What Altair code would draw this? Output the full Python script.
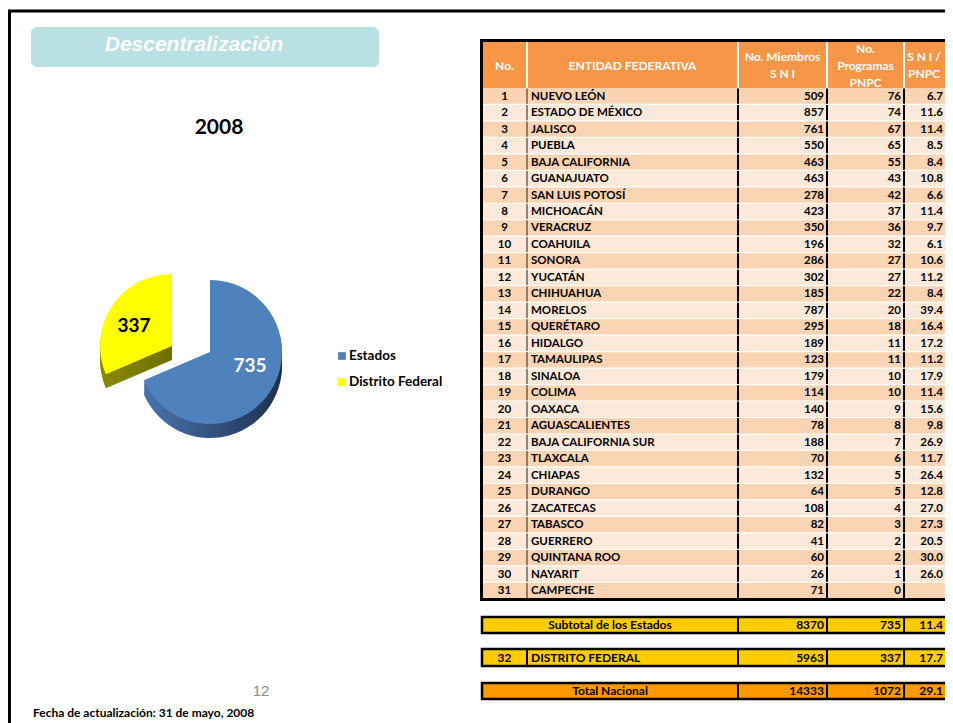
import altair as alt
import pandas as pd

# ---------------- data ----------------
nums = list(range(1, 32))
entidades = ["NUEVO LEÓN", "ESTADO DE MÉXICO", "JALISCO", "PUEBLA", "BAJA CALIFORNIA",
             "GUANAJUATO", "SAN LUIS POTOSÍ", "MICHOACÁN", "VERACRUZ", "COAHUILA",
             "SONORA", "YUCATÁN", "CHIHUAHUA", "MORELOS", "QUERÉTARO", "HIDALGO",
             "TAMAULIPAS", "SINALOA", "COLIMA", "OAXACA", "AGUASCALIENTES",
             "BAJA CALIFORNIA SUR", "TLAXCALA", "CHIAPAS", "DURANGO", "ZACATECAS",
             "TABASCO", "GUERRERO", "QUINTANA ROO", "NAYARIT", "CAMPECHE"]
sni = [509, 857, 761, 550, 463, 463, 278, 423, 350, 196, 286, 302, 185, 787, 295, 189,
       123, 179, 114, 140, 78, 188, 70, 132, 64, 108, 82, 41, 60, 26, 71]
pnpc = [76, 74, 67, 65, 55, 43, 42, 37, 36, 32, 27, 27, 22, 20, 18, 11, 11, 10, 10, 9,
        8, 7, 6, 5, 5, 4, 3, 2, 2, 1, 0]
ratio = ["6.7", "11.6", "11.4", "8.5", "8.4", "10.8", "6.6", "11.4", "9.7", "6.1", "10.6",
         "11.2", "8.4", "39.4", "16.4", "17.2", "11.2", "17.9", "11.4", "15.6", "9.8",
         "26.9", "11.7", "26.4", "12.8", "27.0", "27.3", "20.5", "30.0", "26.0", ""]
subtotal = ["Subtotal de los Estados", 8370, 735, "11.4"]
distrito = [32, "DISTRITO FEDERAL", 5963, 337, "17.7"]
total = ["Total Nacional", 14333, 1072, "29.1"]
header_lines = {
    "No.": ["No."],
    "ENTIDAD FEDERATIVA": ["ENTIDAD FEDERATIVA"],
    "SNI": ["No. Miembros", "S N I"],
    "PNPC": ["No.", "Programas", "PNPC"],
    "RATIO": ["S N I /", "PNPC"],
}
pie_labels = ["Estados", "Distrito Federal"]
pie_values = [735, 337]
title_text = "Descentralización"
year_text = "2008"
footer_text = "Fecha de actualización: 31 de mayo, 2008"
page_text = "12"

# ---------------- layout (page pixel coordinates) ----------------
W, H = 937, 715
xs = alt.Scale(domain=[8, 945], nice=False, zero=False)
ys = alt.Scale(domain=[8, 723], nice=False, zero=False, reverse=True)
FONT = "Lato"

BLUE = "#4F81BD"
YEL = "#FFFF00"

TL, TR = 482, 945            # table left/right (visible part)
C1, C2, C3, C4 = 527, 738, 827, 904
HT, HB = 41, 88.5            # header top/bottom
RH = 16.48                   # row height
RX = 943                     # right edge of ratio text


def X(f="x"):
    return alt.X(f"{f}:Q", scale=xs, axis=None)


def Y(f="y"):
    return alt.Y(f"{f}:Q", scale=ys, axis=None)


def rects(rows, **mark):
    df = pd.DataFrame(rows, columns=["x", "x2", "y", "y2", "fill"])
    return alt.Chart(df).mark_rect(**mark).encode(
        x=X(), x2=alt.X2("x2:Q"), y=Y(), y2=alt.Y2("y2:Q"),
        fill=alt.Fill("fill:N", scale=None))


def rules(rows):
    df = pd.DataFrame(rows, columns=["x", "x2", "y", "y2", "c", "w"])
    return alt.Chart(df).mark_rule(strokeCap="butt").encode(
        x=X(), x2=alt.X2("x2:Q"), y=Y(), y2=alt.Y2("y2:Q"),
        color=alt.Color("c:N", scale=None),
        strokeWidth=alt.StrokeWidth("w:Q", scale=None))


def texts(rows, align="left", size=11.5, color="black", weight="bold", font=FONT, style="normal"):
    df = pd.DataFrame(rows, columns=["x", "y", "t"])
    return alt.Chart(df).mark_text(
        align=align, baseline="middle", fontSize=size, color=color,
        fontWeight=weight, font=font, fontStyle=style).encode(
        x=X(), y=Y(), text="t:N")


layers = []

# slide border
layers.append(rules([[8, 953, 11, 11, "black", 3], [9.5, 9.5, 10, 723, "black", 3]]))

# title bar
layers.append(rects([[31, 379, 27, 67, "#B9E0E3"]], cornerRadius=6))
layers.append(texts([[194, 45, title_text]], align="center", size=21, color="white",
                    font="Liberation Sans", style="italic"))
layers.append(texts([[219, 128, year_text]], align="center", size=21))

# ---------------- pie ----------------
CX, CY, R = 210, 352, 72
DEPTH = 14
EX, EY = -38, -6
pie_df = pd.DataFrame({"cat": pie_labels, "value": pie_values, "ord": [0, 1],
                       "cx": [CX, CX], "cy": [CY, CY]})


def grad(c1, c2):
    return alt.LinearGradient(gradient="linear", x1=0, y1=0, x2=1, y2=0,
                              stops=[alt.GradientStop(color=c1, offset=0),
                                     alt.GradientStop(color=c2, offset=1)])


def arc_layer(fill, dx, dy, show):
    return alt.Chart(pie_df).mark_arc(radius=R, xOffset=dx, yOffset=dy, fill=fill).encode(
        x=X("cx"), y=Y("cy"),
        theta=alt.Theta("value:Q", stack=True),
        order=alt.Order("ord:Q"),
        opacity=alt.condition(alt.datum.cat == show, alt.value(1), alt.value(0)))


blue_side = grad("#4a74ad", "#1d3150")
yel_side = grad("#8a8a00", "#6f6f00")
for d in range(DEPTH, 0, -2):
    layers.append(arc_layer(blue_side, 0, d, pie_labels[0]))
for d in range(DEPTH, 0, -2):
    layers.append(arc_layer(yel_side, EX, EY + d, pie_labels[1]))
layers.append(arc_layer(BLUE, 0, 0, pie_labels[0]))
layers.append(arc_layer(YEL, EX, EY, pie_labels[1]))

layers.append(texts([[250, 366, str(pie_values[0])]], align="center", size=19, color="white"))
layers.append(texts([[134, 326, str(pie_values[1])]], align="center", size=19, color="black"))

# legend
leg_df = pd.DataFrame({"x": [342, 342], "y": [356, 382], "c": [BLUE, YEL]})
layers.append(alt.Chart(leg_df).mark_square(size=60, opacity=1).encode(
    x=X(), y=Y(), color=alt.Color("c:N", scale=None)))
layers.append(texts([[349, 356, pie_labels[0]], [349, 382, pie_labels[1]]], size=13.5))

# ---------------- table ----------------
# header
layers.append(rects([[TL, TR, HT, HB + 2, "#F79646"]]))
layers.append(rules([[c, c, HT, HB, "white", 2] for c in (C1, C2, C3, C4)]))
hdr = []
centers = {"No.": (TL + C1) / 2, "ENTIDAD FEDERATIVA": (C1 + C2) / 2, "SNI": (C2 + C3) / 2,
           "PNPC": (C3 + C4) / 2, "RATIO": 924}
for k, lines in header_lines.items():
    n = len(lines)
    for j, ln in enumerate(lines):
        yy = 65.5 + (j - (n - 1) / 2) * 17
        hdr.append([centers[k], yy, ln])
layers.append(texts(hdr, align="center", size=12, color="white"))

# body rows
row_rects, row_rules = [], []
for i in range(len(nums)):
    y0 = HB + i * RH
    y1 = y0 + RH - 1.2
    row_rects.append([TL, TR, y0, y1, "#FBD4B4" if i % 2 == 0 else "#FDE9D9"])
    row_rules.append([C1, C1, y0, y1, "#222222", 1])
    for c in (C2, C3, C4):
        row_rules.append([c, c, y0, y1, "black", 2])
# white separator line under header
layers.append(rects([[TL, TR, HB, HB + 2, "white"]]))
layers.append(rects(row_rects))
layers.append(rules(row_rules))

ymid = [HB + i * RH + (RH - 1.2) / 2 + 0.5 for i in range(len(nums))]
layers.append(texts([[(TL + C1) / 2, y, str(n)] for y, n in zip(ymid, nums)], align="center"))
layers.append(texts([[C1 + 4, y, e] for y, e in zip(ymid, entidades)], align="left"))
layers.append(texts([[C3 - 3, y, str(v)] for y, v in zip(ymid, sni)]
                    + [[C4 - 3, y, str(v)] for y, v in zip(ymid, pnpc)]
                    + [[RX, y, r] for y, r in zip(ymid, ratio)], align="right"))

# outer border of main table
layers.append(rules([[481.5, 481.5, 39, 601, "black", 3], [480, 953, 40.5, 40.5, "black", 3],
                     [480, 953, 599.5, 599.5, "black", 3]]))

# bottom rows
bands = [(617, 633, "#FFCC00"), (649, 666, "#FFCC00"), (683, 699, "#FF9900")]
layers.append(rects([[TL, TR + 5, a, b, c] for a, b, c in bands],
                    stroke="black", strokeWidth=2.5))
sep = []
for k, (a, b, c) in enumerate(bands):
    for cc in (C2, C3, C4):
        sep.append([cc, cc, a, b, "black", 2])
sep.append([C1, C1, bands[1][0], bands[1][1], "black", 2])
layers.append(rules(sep))
bm = [(a + b) / 2 for a, b, _ in bands]
layers.append(texts([[(TL + C2) / 2, bm[0], subtotal[0]], [(TL + C2) / 2, bm[2], total[0]],
                     [(TL + C1) / 2, bm[1], str(distrito[0])]], align="center", size=12))
layers.append(texts([[C1 + 4, bm[1], distrito[1]]], align="left", size=12))
layers.append(texts([[C3 - 3, bm[0], str(subtotal[1])], [C4 - 3, bm[0], str(subtotal[2])],
                     [RX, bm[0], subtotal[3]],
                     [C3 - 3, bm[1], str(distrito[2])], [C4 - 3, bm[1], str(distrito[3])],
                     [RX, bm[1], distrito[4]],
                     [C3 - 3, bm[2], str(total[1])], [C4 - 3, bm[2], str(total[2])],
                     [RX, bm[2], total[3]]], align="right", size=12))

# page number & footer
layers.append(texts([[261, 691, page_text]], align="center", size=15, color="#8c8c8c",
                    weight="normal", font="Liberation Sans"))
layers.append(texts([[33, 713, footer_text]], align="left", size=12))

chart = alt.layer(*layers).properties(
    width=W, height=H, padding=0, autosize=alt.AutoSizeParams(type="none")
).configure_view(stroke=None)

chart.save("out.html", embed_options={"renderer": "svg", "actions": False})
